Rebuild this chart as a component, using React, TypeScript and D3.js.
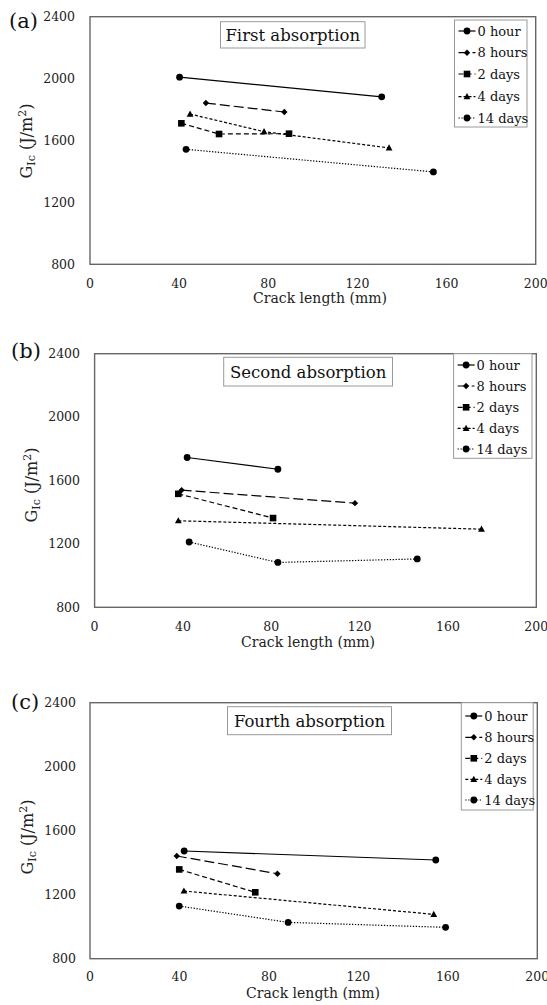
import React from "react";
import * as d3 from "d3";

// ---- data ----
const seriesNames = ["0 hour", "8 hours", "2 days", "4 days", "14 days"];
const panelTitles = ["First absorption", "Second absorption", "Fourth absorption"];
const panelLetters = ["(a)", "(b)", "(c)"];
const xTicks = [0, 40, 80, 120, 160, 200];
const yTicks = [800, 1200, 1600, 2000, 2400];

// First absorption: [crack length (mm), GIc (J/m2)]
const first0h = [[40.2, 2009], [130.9, 1882]];
const first8h = [[52.0, 1842], [87.2, 1784]];
const first2d = [[41.0, 1711], [57.9, 1642], [89.3, 1644]];
const first4d = [[44.9, 1771], [78.1, 1657], [134.2, 1552]];
const first14d = [[43.1, 1543], [154.1, 1397]];

// Second absorption
const second0h = [[41.9, 1745], [83.0, 1671]];
const second8h = [[39.4, 1539], [117.9, 1457]];
const second2d = [[37.9, 1516], [80.8, 1363]];
const second4d = [[37.9, 1346], [175.2, 1293]];
const second14d = [[42.8, 1212], [83.0, 1083], [146.1, 1105]];

// Fourth absorption
const fourth0h = [[42.1, 1473], [154.6, 1417]];
const fourth8h = [[38.8, 1442], [83.8, 1331]];
const fourth2d = [[39.9, 1358], [73.9, 1215]];
const fourth4d = [[42.0, 1223], [153.7, 1077]];
const fourth14d = [[39.9, 1129], [88.6, 1027], [159.0, 996]];

const panelData = [
  [first0h, first8h, first2d, first4d, first14d],
  [second0h, second8h, second2d, second4d, second14d],
  [fourth0h, fourth8h, fourth2d, fourth4d, fourth14d],
];

// ---- styles ----
const dashes = ["none", "10,4", "5,3", "3,2", "1.3,1.6"];
const markers = ["circle", "diamond", "square", "triangle", "circle"];
const FONT = "'DejaVu Serif', serif";

const layouts = [
  {
    l: 90, r: 535.7, t: 16.7, b: 264.3,
    title: [220.5, 365, 21.7, 48],
    legend: [454.5, 527, 20, 127],
    rows: [31, 52.7, 74, 96.7, 118],
    letter: [9, 28],
    yTickRight: 75,
    xTickBase: 288,
    xLabel: [320, 303],
    yLabel: [26, 141],
  },
  {
    l: 94.6, r: 536.3, t: 353.7, b: 607.3,
    title: [223.7, 392.5, 357.3, 386],
    legend: [453.6, 532, 353.7, 458.3],
    rows: [365, 386, 407.3, 428.3, 449],
    letter: [11, 358],
    yTickRight: 80,
    xTickBase: 631,
    xLabel: [308, 647],
    yLabel: [31, 485],
  },
  {
    l: 90, r: 537.3, t: 702.7, b: 958.7,
    title: [227.5, 391.5, 706.7, 734.7],
    legend: [461.3, 533.2, 702.7, 810],
    rows: [716, 737.3, 758.3, 779.3, 800],
    letter: [11, 709],
    yTickRight: 76,
    xTickBase: 981,
    xLabel: [313, 998],
    yLabel: [27, 837],
  },
];

function Marker({ type, x, y }: { type: string; x: number; y: number }) {
  if (type === "circle") return <circle cx={x} cy={y} r={3.4} fill="#000" />;
  if (type === "square") return <rect x={x - 3.3} y={y - 3.3} width={6.6} height={6.6} fill="#000" />;
  if (type === "diamond")
    return <path d={`M${x},${y - 3.2}L${x + 3.2},${y}L${x},${y + 3.2}L${x - 3.2},${y}Z`} fill="#000" />;
  return <path d={`M${x},${y - 3.6}L${x + 3.4},${y + 2.6}L${x - 3.4},${y + 2.6}Z`} fill="#000" />;
}

function Panel({ idx }: { idx: number }) {
  const L = layouts[idx];
  const x = d3.scaleLinear().domain([0, 200]).range([L.l, L.r]);
  const y = d3.scaleLinear().domain([800, 2400]).range([L.b, L.t]);
  const line = d3
    .line<number[]>()
    .x((d) => x(d[0]))
    .y((d) => y(d[1]));
  const [tx0, tx1, ty0, ty1] = L.title;
  const [lx0, lx1, ly0, ly1] = L.legend;
  return (
    <g>
      <text x={L.letter[0]} y={L.letter[1]} fontSize={21} fontFamily={FONT} fill="#111">
        {panelLetters[idx]}
      </text>
      <rect x={L.l} y={L.t} width={L.r - L.l} height={L.b - L.t} fill="none" stroke="#666" strokeWidth={1.4} />
      {yTicks.map((t) => (
        <text key={t} x={L.yTickRight} y={y(t)} dy="0.35em" textAnchor="end" fontSize={12.5} fontFamily={FONT} fill="#222">
          {t}
        </text>
      ))}
      {xTicks.map((t) => (
        <text key={t} x={x(t)} y={L.xTickBase} textAnchor="middle" fontSize={12.5} fontFamily={FONT} fill="#222">
          {t}
        </text>
      ))}
      <text x={L.xLabel[0]} y={L.xLabel[1]} textAnchor="middle" fontSize={14} fontFamily={FONT} fill="#222">
        Crack length (mm)
      </text>
      <text
        transform={`translate(${L.yLabel[0]},${L.yLabel[1]}) rotate(-90)`}
        textAnchor="middle"
        dy="0.35em"
        fontSize={16}
        fontFamily={FONT}
        fill="#222"
      >
        G
        <tspan fontSize={11} dy="3.5">Ic</tspan>
        <tspan dy="-3.5"> (J/m</tspan>
        <tspan fontSize={11} dy="-6">2</tspan>
        <tspan dy="6">)</tspan>
      </text>
      {/* title box */}
      <rect x={tx0} y={ty0} width={tx1 - tx0} height={ty1 - ty0} fill="#fff" stroke="#999" strokeWidth={1} />
      <text x={(tx0 + tx1) / 2} y={(ty0 + ty1) / 2} dy="0.36em" textAnchor="middle" fontSize={16.5} fontFamily={FONT} fill="#111">
        {panelTitles[idx]}
      </text>
      {/* series */}
      {panelData[idx].map((pts, si) => (
        <g key={si}>
          <path d={line(pts as number[][]) || ""} fill="none" stroke="#000" strokeWidth={1.2} strokeDasharray={dashes[si]} />
          {pts.map((p, pi) => (
            <Marker key={pi} type={markers[si]} x={x(p[0])} y={y(p[1])} />
          ))}
        </g>
      ))}
      {/* legend */}
      <rect x={lx0} y={ly0} width={lx1 - lx0} height={ly1 - ly0} fill="#fff" stroke="#999" strokeWidth={1} />
      {seriesNames.map((name, si) => {
        const ry = L.rows[si];
        const sx = lx0 + 4;
        return (
          <g key={name}>
            <line x1={sx} x2={sx + 17} y1={ry} y2={ry} stroke="#000" strokeWidth={1.2} strokeDasharray={dashes[si]} />
            <Marker type={markers[si]} x={sx + 8.5} y={ry} />
            <text x={sx + 19} y={ry} dy="0.35em" fontSize={13} fontFamily={FONT} fill="#111">
              {name}
            </text>
          </g>
        );
      })}
    </g>
  );
}

export default function App() {
  return (
    <svg width={547} height={1005} style={{ position: "absolute", left: 0, top: 0, background: "#fff" }}>
      <rect width={547} height={1005} fill="#fff" />
      {[0, 1, 2].map((i) => (
        <Panel key={i} idx={i} />
      ))}
    </svg>
  );
}
